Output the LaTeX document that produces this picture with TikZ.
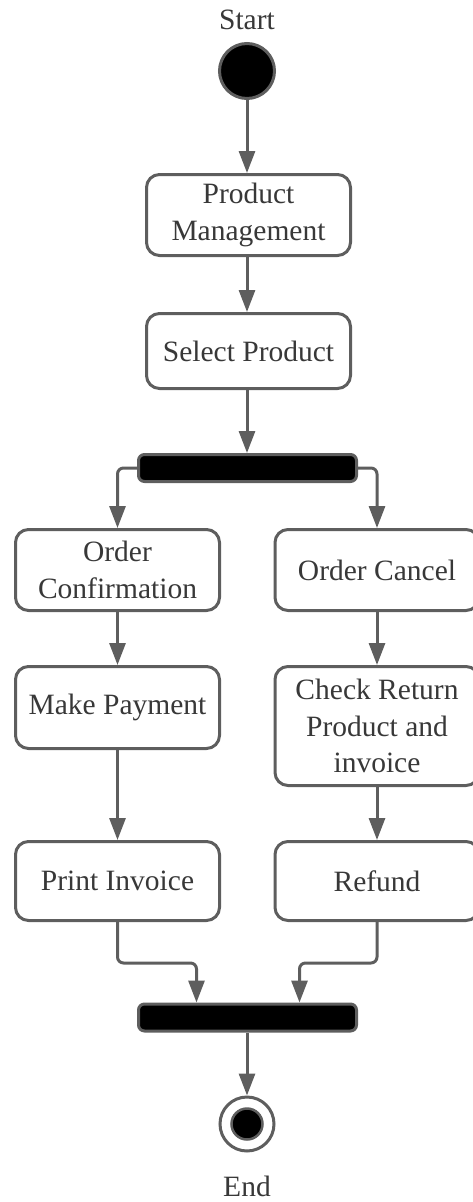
\documentclass[tikz,border=0pt]{standalone}
\usepackage{fontspec}
\setmainfont{Liberation Serif}
\usetikzlibrary{arrows.meta}
\definecolor{linegray}{HTML}{5E5E5E}
\definecolor{textgray}{HTML}{383838}

\begin{document}
\begin{tikzpicture}[x=1pt,y=-1pt,
  txt/.style={text=textgray, font=\fontsize{29.5}{36.5}\selectfont, align=center, inner sep=0pt},
  act/.style={txt, draw=linegray, line width=3pt, rounded corners=13pt, fill=white,
              minimum width=204pt},
  bar/.style={draw=linegray, line width=3pt, rounded corners=6pt, fill=black,
              minimum width=218pt, minimum height=27pt, inner sep=0pt},
  conn/.style={draw=linegray, line width=3pt, rounded corners=6pt,
               -{Triangle[width=16pt,length=22pt]}}]

\useasboundingbox (0,0) rectangle (473,1202);

% initial node
\node[txt] (startlbl) at (247,20) {Start};
\node[circle, draw=linegray, line width=3pt, fill=black, minimum size=55pt, inner sep=0pt] (start) at (247,71) {};

% main sequence
\node[act, minimum height=81pt] (pm) at (248.5,215) {Product\\Management};
\node[act, minimum height=75pt] (sel) at (248.5,351) {Select Product};
\node[bar] (fork) at (247.5,468) {};

% left branch
\node[act, minimum height=81pt] (oc) at (117.5,570) {Order\\Confirmation};
\node[act, minimum height=82pt] (mp) at (117.5,707.5) {Make Payment};
\node[act, minimum height=79pt] (pi) at (117.5,881) {Print Invoice};

% right branch
\node[act, minimum height=81pt] (ocan) at (377,570) {Order Cancel};
\node[act, minimum height=119pt] (crp) at (377,726) {Check Return\\Product and\\invoice};
\node[act, minimum height=79pt] (ref) at (377,881) {Refund};

% join and final node
\node[bar] (join) at (247.5,1017.5) {};
\coordinate (jinL) at ([xshift=-51pt]join.north);
\coordinate (jinR) at ([xshift=52pt]join.north);
\node[circle, draw=linegray, line width=3pt, fill=white, minimum size=54pt, inner sep=0pt] (endo) at (247,1124) {};
\node[circle, draw=linegray, line width=2.5pt, fill=black, minimum size=31pt, inner sep=0pt] (endi) at (endo.center) {};
\node[txt] (endlbl) at (247,1186) {End};

% flows
\draw[conn] (start) -- (start |- pm.north);
\draw[conn] (pm.south -| start) -- (start |- sel.north);
\draw[conn] (sel.south -| start) -- (start |- fork.north);
\draw[conn] (fork.west) -| (oc.north);
\draw[conn] (fork.east) -| (ocan.north);
\draw[conn] (oc) -- (mp);
\draw[conn] (mp) -- (pi);
\draw[conn] (ocan) -- (crp);
\draw[conn] (crp) -- (ref);
\draw[conn] (pi.south) -- ++(0,41) -| (jinL);
\draw[conn] (ref.south) -- ++(0,41) -| (jinR);
\draw[conn] (join.south -| endo) -- (endo.north);

\end{tikzpicture}
\end{document}
